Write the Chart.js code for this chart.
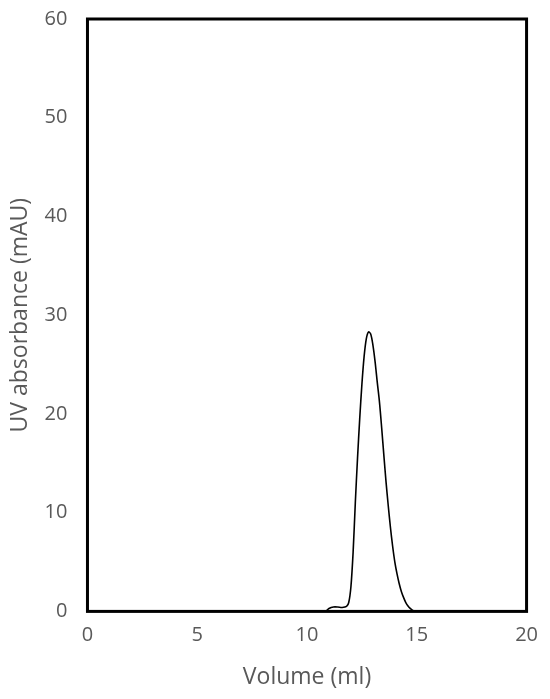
<!DOCTYPE html>
<html>
<head>
<meta charset="utf-8">
<script src="https://cdn.jsdelivr.net/npm/chart.js@4/dist/chart.umd.min.js"></script>
<style>
  html, body { margin: 0; padding: 0; background: #fff; }
  #wrap { width: 550px; height: 699px; }
</style>
</head>
<body>
<div id="wrap"><canvas id="uvChart"></canvas></div>
<script>
// Elution trace
const volume = [0, 10.8, 10.9, 11.0, 11.2, 11.4, 11.6, 11.8, 11.9, 12.0, 12.1, 12.2, 12.3, 12.4, 12.5,
  12.6, 12.7, 12.8, 12.9, 13.0, 13.1, 13.2, 13.3, 13.4, 13.5, 13.6, 13.7, 13.8, 13.9, 14.0,
  14.1, 14.2, 14.3, 14.4, 14.5, 14.6, 14.7, 14.8, 14.9, 15.0, 16.0, 20];
const absorbance = [0, 0, 0.1, 0.3, 0.45, 0.45, 0.4, 0.5, 0.9, 2.5, 6, 11, 15.5, 19.5, 23,
  25.8, 27.6, 28.3, 28.1, 27.0, 25.3, 23.2, 21.2, 18.6, 15.8, 13.1, 10.7, 8.5, 6.6, 5.0,
  3.8, 2.8, 2.0, 1.4, 0.9, 0.55, 0.3, 0.12, 0.03, 0, 0.05, 0];
const xTicks = [0, 5, 10, 15, 20];
const yTicks = [0, 10, 20, 30, 40, 50, 60];

const points = volume.map((v, i) => ({ x: v, y: absorbance[i] }));

// thick black frame round the plot area
const frame = {
  id: 'frame',
  afterDatasetsDraw(chart) {
    const a = chart.chartArea;
    const ctx = chart.ctx;
    ctx.save();
    ctx.strokeStyle = '#000';
    ctx.lineWidth = 3;
    ctx.strokeRect(a.left, a.top, a.right - a.left, a.bottom - a.top);
    ctx.restore();
  }
};

const fam = "'Open Sans', 'Noto Sans', sans-serif";
const tickFont = { family: fam, size: 20 };
const titleFont = { family: fam, size: 23 };

new Chart(document.getElementById('uvChart'), {
  type: 'line',
  data: {
    datasets: [{
      data: points,
      borderColor: '#000',
      borderWidth: 1.6,
      pointRadius: 0,
      fill: false,
      tension: 0.3
    }]
  },
  options: {
    responsive: true,
    maintainAspectRatio: false,
    animation: false,
    layout: { padding: { top: 19, right: 22, left: 3, bottom: 4 } },
    plugins: { legend: { display: false }, tooltip: { enabled: false } },
    scales: {
      x: {
        type: 'linear',
        min: 0, max: 20,
        afterBuildTicks: axis => { axis.ticks = xTicks.map(v => ({ value: v })); },
        grid: { display: false, drawTicks: false },
        border: { display: false },
        ticks: { color: '#595959', font: tickFont, padding: 12 },
        title: { display: true, text: 'Volume (ml)', color: '#595959', font: titleFont, padding: { top: 4 } }
      },
      y: {
        min: 0, max: 60,
        afterBuildTicks: axis => { axis.ticks = yTicks.map(v => ({ value: v })); },
        afterFit: axis => { axis.paddingTop = 0; },
        grid: { display: false, drawTicks: false },
        border: { display: false },
        ticks: { color: '#595959', font: tickFont, padding: 20 },
        title: { display: true, text: 'UV absorbance (mAU)', color: '#595959', font: titleFont, padding: { bottom: -10 } }
      }
    }
  },
  plugins: [frame]
});
</script>
</body>
</html>
